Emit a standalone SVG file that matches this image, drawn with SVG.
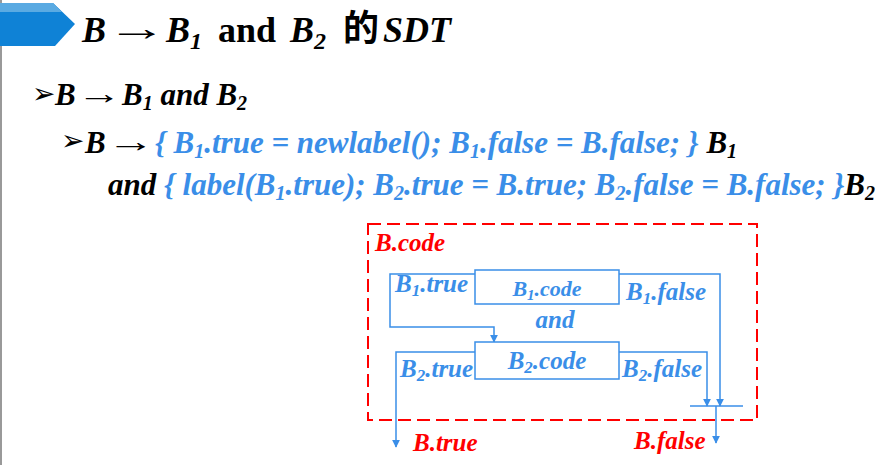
<svg xmlns="http://www.w3.org/2000/svg" width="895" height="465" viewBox="0 0 895 465">
<style>
.t{font-family:"Liberation Serif","Tinos","Times New Roman","DejaVu Serif",serif;font-weight:bold;font-style:italic}
.up{font-style:normal}
.ar{font-family:"Liberation Serif","DejaVu Serif",serif;font-weight:normal;font-style:normal;fill:#000}
.k{fill:#000}
.b{fill:#3a8ee8}
.r{fill:#ff0000}
.ln{fill:none;stroke:#3a8ee8;stroke-width:1.5}
.bx{fill:#fff;stroke:#3a8ee8;stroke-width:1.5}
.bul{font-family:"DejaVu Sans",sans-serif;fill:#000}
</style>
<defs>
<marker id="ah" viewBox="0 0 10 10" refX="9" refY="5" markerWidth="8" markerHeight="8" markerUnits="userSpaceOnUse" orient="auto">
<path d="M0,0 L10,5 L0,10 Z" fill="#3a8ee8"/>
</marker>
</defs>
<rect x="0" y="0" width="895" height="465" fill="#fff"/>
<g id="banner">
<line x1="1" y1="0" x2="1" y2="465" stroke="#999" stroke-width="2"/>
<polygon points="0,3 53,3 75,24 55,46 0,46" fill="#0f82d6"/>
<polygon points="0,3 53,3 62,12 0,12" fill="#5aaae2"/>
</g>
<g id="title">
<text class="t k" x="82" y="42" font-size="36">B</text>
<text class="ar" transform="translate(107,40) scale(1.68,1)" x="0" y="0" font-size="36">→</text>
<text class="t k" x="166" y="42" font-size="36">B<tspan font-size="24" dy="7">1</tspan></text>
<text class="t k up" x="218" y="42" font-size="36">and</text>
<text class="t k" x="290" y="42" font-size="36">B<tspan font-size="24" dy="7">2</tspan></text>
<text x="343" y="41" font-size="36" font-weight="bold" font-family="Noto Sans CJK SC,sans-serif" fill="#000">的</text>
<text class="t k" x="383" y="42" font-size="36">SDT</text>
</g>
<g id="line2">
<text class="bul" x="32" y="103" font-size="28">➢</text>
<text class="t k" x="55" y="105" font-size="31">B</text>
<text class="ar" transform="translate(77,104) scale(1.45,1)" x="0" y="0" font-size="31">→</text>
<text class="t k" x="122" y="105" font-size="31">B<tspan font-size="20" dy="5">1</tspan><tspan dy="-5"> and B</tspan><tspan font-size="20" dy="5">2</tspan></text>
</g>
<g id="line3">
<text class="bul" x="61" y="150" font-size="28">➢</text>
<text class="t k" x="85" y="153" font-size="31">B</text>
<text class="ar" transform="translate(107,152) scale(1.55,1)" x="0" y="0" font-size="31">→</text>
<text class="t" x="155" y="153" font-size="31"><tspan class="b">{ B</tspan><tspan class="b" font-size="20" dy="5">1</tspan><tspan class="b" dy="-5">.true = newlabel(); B</tspan><tspan class="b" font-size="20" dy="5">1</tspan><tspan class="b" dy="-5">.false = B.false; } </tspan><tspan class="k">B</tspan><tspan class="k" font-size="20" dy="5">1</tspan></text>
</g>
<g id="line4">
<text class="t" x="108" y="195" font-size="31"><tspan class="k">and </tspan><tspan class="b">{ label(B</tspan><tspan class="b" font-size="20" dy="5">1</tspan><tspan class="b" dy="-5">.true); B</tspan><tspan class="b" font-size="20" dy="5">2</tspan><tspan class="b" dy="-5">.true = B.true; B</tspan><tspan class="b" font-size="20" dy="5">2</tspan><tspan class="b" dy="-5">.false = B.false; }</tspan><tspan class="k">B</tspan><tspan class="k" font-size="20" dy="5">2</tspan></text>
</g>
<g id="bcode">
<rect x="368" y="224" width="389" height="196" fill="none" stroke="#ff0000" stroke-width="2" stroke-dasharray="13,6"/>
<text class="t r" x="375" y="251" font-size="25">B.code</text>
</g>
<g id="connectors">
<polyline class="ln" points="475,274 390,274 390,327 494,327 494,342" marker-end="url(#ah)"/>
<polyline class="ln" points="619,274 720,274 720,406" marker-end="url(#ah)"/>
<polyline class="ln" points="475,352 396,352 396,447" marker-end="url(#ah)"/>
<polyline class="ln" points="619,352 707,352 707,406" marker-end="url(#ah)"/>
<line class="ln" x1="690" y1="406" x2="743" y2="406"/>
<polyline class="ln" points="716,406 716,443" marker-end="url(#ah)"/>
</g>
<g id="b1code">
<rect class="bx" x="475" y="270" width="144" height="34"/>
<text class="t b" x="547" y="296" font-size="22" text-anchor="middle">B<tspan font-size="15" dy="4">1</tspan><tspan dy="-4">.code</tspan></text>
</g>
<g id="b2code">
<rect class="bx" x="475" y="342" width="144" height="37"/>
<text class="t b" x="547" y="369" font-size="25" text-anchor="middle">B<tspan font-size="17" dy="4">2</tspan><tspan dy="-4">.code</tspan></text>
</g>
<g id="labels">
<text class="t b" x="395" y="292" font-size="25">B<tspan font-size="17" dy="4">1</tspan><tspan dy="-4">.true</tspan></text>
<text class="t b" x="626" y="300" font-size="25">B<tspan font-size="17" dy="4">1</tspan><tspan dy="-4">.false</tspan></text>
<text class="t b" x="555" y="328" font-size="25" text-anchor="middle">and</text>
<text class="t b" x="400" y="377" font-size="25">B<tspan font-size="17" dy="4">2</tspan><tspan dy="-4">.true</tspan></text>
<text class="t b" x="622" y="377" font-size="25">B<tspan font-size="17" dy="4">2</tspan><tspan dy="-4">.false</tspan></text>
<text class="t r" x="413" y="451" font-size="25">B.true</text>
<text class="t r" x="634" y="449" font-size="25">B.false</text>
</g>
</svg>
